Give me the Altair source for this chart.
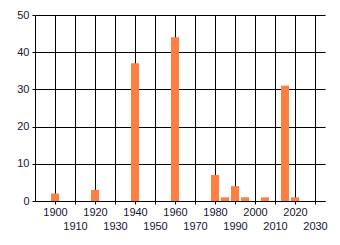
import altair as alt
import pandas as pd

years = [1900, 1920, 1940, 1960, 1980, 1985, 1990, 1995, 2005, 2015, 2020]
counts = [2, 3, 37, 44, 7, 1, 4, 1, 1, 31, 1]
x_ticks = [1900, 1910, 1920, 1930, 1940, 1950, 1960, 1970, 1980, 1990, 2000, 2010, 2020, 2030]
y_ticks = [0, 10, 20, 30, 40, 50]

df = pd.DataFrame({"year": years, "count": counts})

label_color = "#151535"

chart = alt.Chart(df).transform_calculate(
    x0="datum.year - 2", x1="datum.year + 2", base="0"
).mark_bar(color="#FF7F40").encode(
    x=alt.X("x0:Q",
            scale=alt.Scale(domain=[1890, 2035], nice=False, zero=False),
            axis=alt.Axis(values=x_ticks, format="d", title=None,
                          grid=True, gridColor="black", gridOpacity=1, gridWidth=1,
                          domainColor="black", domainWidth=1,
                          tickColor="black", tickSize=3,
                          labelFont="Liberation Sans", labelFontSize=11,
                          labelColor=label_color, labelBaseline="top",
                          labelPadding=2, labelLineHeight=14,
                          labelOverlap=False, labelFlush=False,
                          labelExpr="(datum.value % 20 == 10) ? ['', datum.label] : datum.label")),
    x2="x1:Q",
    y=alt.Y("count:Q",
            scale=alt.Scale(domain=[0, 50], nice=False, padding=0),
            axis=alt.Axis(values=y_ticks, title=None,
                          grid=True, gridColor="black", gridOpacity=1, gridWidth=1,
                          domainColor="black", domainWidth=1,
                          tickColor="black", tickSize=3,
                          labelFont="Liberation Sans", labelFontSize=11,
                          labelColor=label_color, labelPadding=3,
                          labelFlush=False, labelOverlap=False)),
    y2="base:Q",
).properties(
    width=290, height=186,
    autosize=alt.AutoSizeParams(type="none"),
    padding={"left": 35, "top": 15, "right": 15, "bottom": 44},
    background="white",
).configure_view(stroke=None)

chart.save("out.html", embed_options={"renderer": "svg", "actions": False})
